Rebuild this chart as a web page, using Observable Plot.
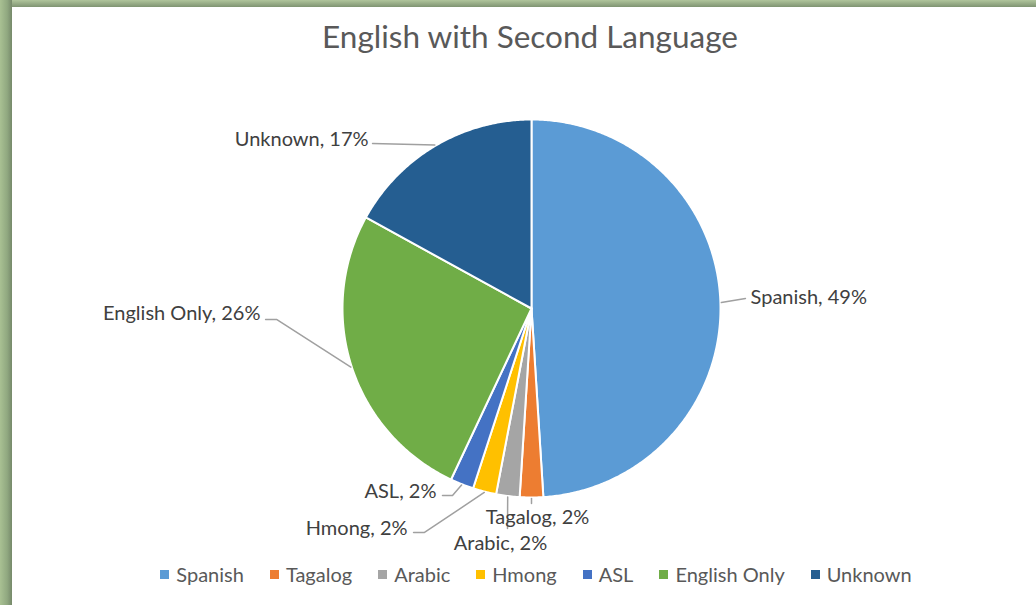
<!DOCTYPE html>
<html>
<head>
<meta charset="utf-8">
<script src="https://cdn.jsdelivr.net/npm/d3@7"></script>
<script src="https://cdn.jsdelivr.net/npm/@observablehq/plot@0.6"></script>
<style>
  html, body { margin: 0; padding: 0; background: #fff; }
  #frame { position: relative; width: 1036px; height: 605px; overflow: hidden; background: #fff; font-family: Lato, "Open Sans", sans-serif; }
  #topband { position: absolute; left: 0; top: 0; width: 1036px; height: 7px; background: linear-gradient(to bottom, #b0c59c, #7f9472); z-index: 3; }
  #leftband { position: absolute; left: 0; top: 0; width: 12px; height: 605px; background: linear-gradient(to right, #a9c193, #90a880 60%, #76896a); z-index: 4; }
  #title { position: absolute; left: 0; width: 1060px; top: 17px; text-align: center; font-size: 31.5px; line-height: 38px; color: #595959; z-index: 2; }
  #chart { position: absolute; left: 0; top: 0; z-index: 1; }
  #legend { position: absolute; left: 0; width: 1072px; top: 561px; display: flex; justify-content: center; gap: 26px; font-size: 20px; line-height: 26px; color: #595959; z-index: 2; }
  #legend .item { display: flex; align-items: center; }
  #legend .sw { width: 9px; height: 9px; margin-right: 7px; }
</style>
</head>
<body>
<div id="frame">
  <div id="topband"></div>
  <div id="leftband"></div>
  <div id="title">English with Second Language</div>
  <div id="chart"></div>
  <div id="legend"></div>
</div>
<script>
// ---- data ----
const categories = ["Spanish", "Tagalog", "Arabic", "Hmong", "ASL", "English Only", "Unknown"];
const percents   = [49, 2, 2, 2, 2, 26, 17];
const colors     = ["#5B9BD5", "#ED7D31", "#A5A5A5", "#FFC000", "#4472C4", "#70AD47", "#255E91"];

// ---- label layout (in pie-radius units, origin at pie centre, y up) ----
const labelLayout = [
  {name: "Spanish",      tx: 1.159,  ty: 0.058,  anchor: "start",  leader: [[1.132, 0.053]]},
  {name: "Tagalog",      tx: 0.032,  ty: -1.106, anchor: "middle", leader: [[0, -1.032]]},
  {name: "Arabic",       tx: -0.164, ty: -1.243, anchor: "middle", leader: [[-0.127, -1.164]]},
  {name: "Hmong",        tx: -0.656, ty: -1.164, anchor: "end",    leader: [[-0.566, -1.185], [-0.624, -1.185]]},
  {name: "ASL",          tx: -0.503, ty: -0.968, anchor: "end",    leader: [[-0.418, -0.989], [-0.471, -0.989]]},
  {name: "English Only", tx: -1.434, ty: -0.026, anchor: "end",    leader: [[-1.349, -0.058], [-1.407, -0.058]]},
  {name: "Unknown",      tx: -0.862, ty: 0.894,  anchor: "end",    leader: [[-0.841, 0.873]]}
];

// ---- geometry ----
const W = 1036, H = 605, R = 189, CX = 531, CY = 308;
const total = d3.sum(percents);
const slices = [];
let acc = 0;
categories.forEach((name, i) => {
  const a0 = acc / total * 2 * Math.PI;
  acc += percents[i];
  const a1 = acc / total * 2 * Math.PI;
  slices.push({name, value: percents[i], a0, a1, mid: (a0 + a1) / 2});
});

const slicePts = [];
for (const s of slices) {
  slicePts.push({name: s.name, x: 0, y: 0});
  const n = Math.max(2, Math.ceil((s.a1 - s.a0) / (Math.PI / 360)));
  for (let k = 0; k <= n; k++) {
    const a = s.a0 + (s.a1 - s.a0) * k / n;
    slicePts.push({name: s.name, x: Math.sin(a), y: Math.cos(a)});
  }
  slicePts.push({name: s.name, x: 0, y: 0});
}

const leaderPts = [];
const labels = [];
for (const s of slices) {
  const L = labelLayout.find(l => l.name === s.name);
  leaderPts.push({name: s.name, x: Math.sin(s.mid) * 1.005, y: Math.cos(s.mid) * 1.005});
  for (const p of L.leader) leaderPts.push({name: s.name, x: p[0], y: p[1]});
  labels.push({name: s.name, text: `${s.name}, ${s.value}%`, x: L.tx, y: L.ty, anchor: L.anchor});
}

const textOpts = (anchor) => ({
  filter: d => d.anchor === anchor,
  x: "x", y: "y", text: "text",
  textAnchor: anchor,
  fontSize: 20,
  fontFamily: "Lato, 'Open Sans', sans-serif",
  fill: "#404040"
});

const chart = Plot.plot({
  width: W, height: H,
  margin: 0,
  style: {background: "transparent", overflow: "visible"},
  x: {domain: [-CX / R, (W - CX) / R], axis: null},
  y: {domain: [-(H - CY) / R, CY / R], axis: null},
  color: {domain: categories, range: colors},
  marks: [
    Plot.line(slicePts, {x: "x", y: "y", z: "name", fill: "name", stroke: "white", strokeWidth: 2, strokeLinejoin: "round", curve: "linear"}),
    Plot.line(leaderPts, {x: "x", y: "y", z: "name", stroke: "#A0A0A0", strokeWidth: 1.5, curve: "linear"}),
    Plot.text(labels, textOpts("start")),
    Plot.text(labels, textOpts("middle")),
    Plot.text(labels, textOpts("end"))
  ]
});
document.getElementById("chart").appendChild(chart);

// ---- legend ----
const legend = document.getElementById("legend");
categories.forEach((name, i) => {
  const item = document.createElement("div");
  item.className = "item";
  const sw = document.createElement("span");
  sw.className = "sw";
  sw.style.background = colors[i];
  const t = document.createElement("span");
  t.textContent = name;
  item.appendChild(sw);
  item.appendChild(t);
  legend.appendChild(item);
});
</script>
</body>
</html>
